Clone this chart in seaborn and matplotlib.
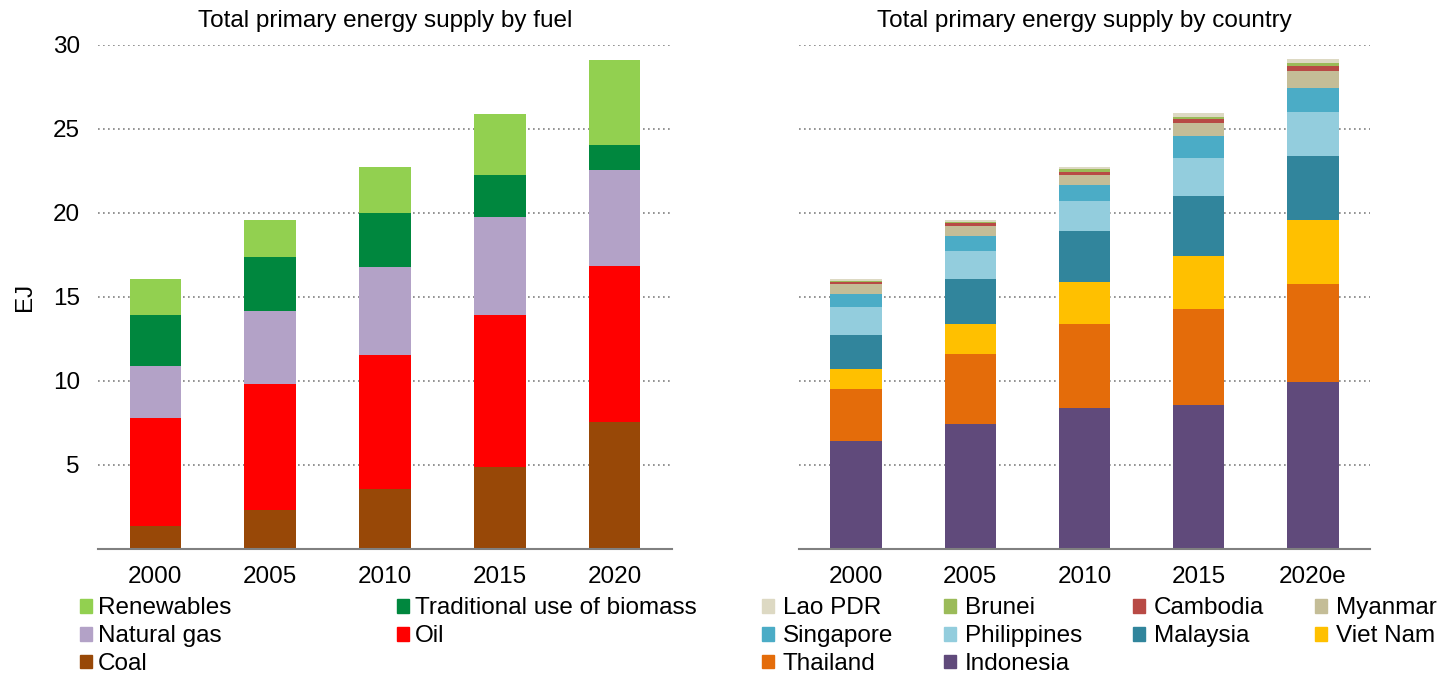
import numpy as np
import pandas as pd
import seaborn as sns
import matplotlib.pyplot as plt
from matplotlib.patches import Patch

sns.set_style('white')
plt.rcParams['font.family'] = ['Liberation Sans', 'DejaVu Sans']
plt.rcParams['text.color'] = 'black'
plt.rcParams['xtick.color'] = 'black'
plt.rcParams['ytick.color'] = 'black'
plt.rcParams['axes.labelcolor'] = 'black'

years = ['2000', '2005', '2010', '2015', '2020']
years_country = ['2000', '2005', '2010', '2015', '2020e']

# fuel values in EJ, bottom to top
fuels = ['Coal', 'Oil', 'Natural gas', 'Traditional use of biomass', 'Renewables']
coal = [1.37, 2.32, 3.57, 4.88, 7.56]
oil = [6.43, 7.50, 7.98, 9.05, 9.29]
natural_gas = [3.10, 4.35, 5.24, 5.83, 5.71]
biomass = [3.00, 3.21, 3.21, 2.50, 1.49]
renewables = [2.17, 2.20, 2.74, 3.63, 5.05]
fuel_colors = ['#984807', '#FF0000', '#B3A2C7', '#00873E', '#92D050']

# country values in EJ, bottom to top
countries = ['Indonesia', 'Thailand', 'Viet Nam', 'Malaysia', 'Philippines',
             'Singapore', 'Myanmar', 'Cambodia', 'Brunei', 'Lao PDR']
indonesia = [6.45, 7.44, 8.41, 8.57, 9.96]
thailand = [3.07, 4.19, 5.00, 5.73, 5.81]
viet_nam = [1.21, 1.74, 2.46, 3.14, 3.81]
malaysia = [2.03, 2.72, 3.08, 3.59, 3.83]
philippines = [1.66, 1.67, 1.76, 2.26, 2.60]
singapore = [0.78, 0.85, 0.98, 1.31, 1.43]
myanmar = [0.55, 0.62, 0.57, 0.78, 0.99]
cambodia = [0.14, 0.16, 0.18, 0.22, 0.34]
brunei = [0.08, 0.07, 0.18, 0.13, 0.18]
lao = [0.10, 0.10, 0.12, 0.20, 0.22]
country_colors = ['#604A7B', '#E46C0A', '#FFC000', '#31859C', '#93CDDD',
                  '#4BACC6', '#C4BD97', '#B84A45', '#9BBB59', '#DDD9C3']

FS = 17.5


def stacked(ax, labels, series, colors):
    totals = np.cumsum(np.array(series), axis=0)
    # draw from the top layer down so lower layers cover the upper ones
    for i in range(len(series) - 1, -1, -1):
        df = pd.DataFrame({'year': labels, 'value': totals[i]})
        sns.barplot(data=df, x='year', y='value', color=colors[i],
                    width=0.45, saturation=1, ax=ax, linewidth=0)
    ax.set_xlim(-0.5, 4.5)
    ax.set_ylim(0, 30)
    ax.set_yticks([5, 10, 15, 20, 25, 30])
    ax.grid(axis='y', color='#808080', linestyle=(0, (1, 2)), linewidth=1.2)
    ax.set_axisbelow(True)
    for s in ['left', 'right', 'top']:
        ax.spines[s].set_visible(False)
    ax.spines['bottom'].set_color('#808080')
    ax.spines['bottom'].set_linewidth(1.5)
    ax.tick_params(axis='x', length=0, labelsize=FS, pad=12)
    ax.tick_params(axis='y', length=0, labelsize=FS, pad=13)
    ax.set_xlabel('')
    ax.set_ylabel('')


fig = plt.figure(figsize=(14.43, 6.74), dpi=100)
ax1 = fig.add_axes([0.0679, 0.1855, 0.3978, 0.7478])
ax2 = fig.add_axes([0.5537, 0.1855, 0.3957, 0.7478])

stacked(ax1, years, [coal, oil, natural_gas, biomass, renewables], fuel_colors)
stacked(ax2, years_country, [indonesia, thailand, viet_nam, malaysia, philippines,
                             singapore, myanmar, cambodia, brunei, lao], country_colors)

ax1.set_ylabel('EJ', fontsize=FS, labelpad=12)
ax2.set_yticklabels([])
ax1.set_title('Total primary energy supply by fuel', fontsize=FS, pad=13)
ax2.set_title('Total primary energy supply by country', fontsize=FS, pad=13)

# legends (matplotlib fills columns first)
fuel_order = ['Renewables', 'Natural gas', 'Coal', 'Traditional use of biomass', 'Oil']
h1 = [Patch(color=fuel_colors[fuels.index(f)], label=f) for f in fuel_order]
fig.legend(handles=h1, loc='upper left', bbox_to_anchor=(0.0554, 0.1136), ncol=2,
           frameon=False, fontsize=FS, handlelength=0.5, handleheight=0.5,
           handletextpad=0.25, columnspacing=6.8, labelspacing=0.24,
           borderaxespad=0, borderpad=0)

country_order = ['Lao PDR', 'Singapore', 'Thailand', 'Brunei', 'Philippines', 'Indonesia',
                 'Cambodia', 'Malaysia', 'Myanmar', 'Viet Nam']
h2 = [Patch(color=country_colors[countries.index(c)], label=c) for c in country_order]
fig.legend(handles=h2, loc='upper left', bbox_to_anchor=(0.528, 0.1136), ncol=4,
           frameon=False, fontsize=FS, handlelength=0.5, handleheight=0.5,
           handletextpad=0.35, columnspacing=2.1, labelspacing=0.24,
           borderaxespad=0, borderpad=0)

fig.savefig('out.png', dpi=100)
